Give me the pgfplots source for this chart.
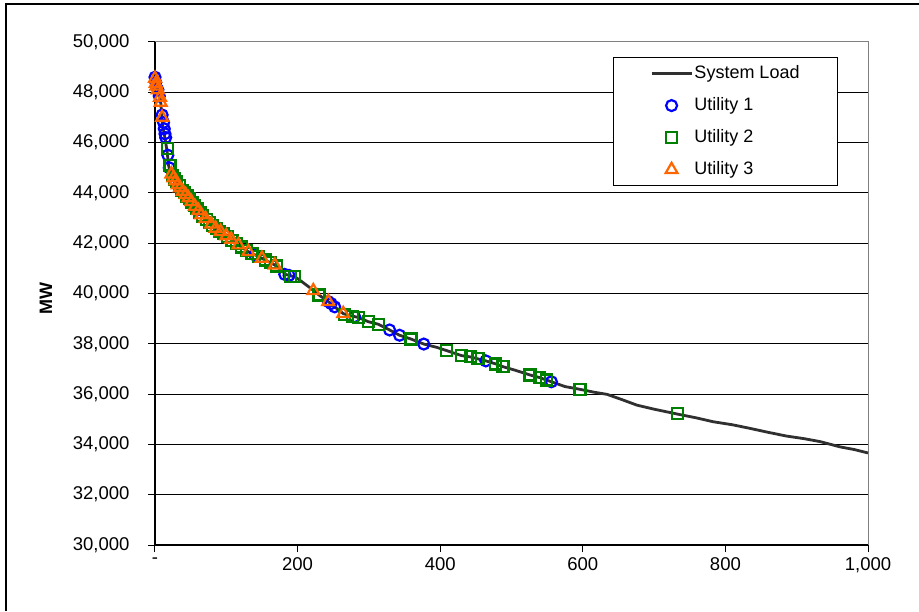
\documentclass[border=0pt]{standalone}
\usepackage{fontspec}
\setmainfont{Liberation Sans}
\usepackage{pgfplots}
\pgfplotsset{compat=1.18}

\definecolor{uone}{RGB}{0,0,255}
\definecolor{utwo}{RGB}{0,128,0}
\definecolor{uthree}{RGB}{255,102,0}
\definecolor{loadline}{RGB}{48,48,48}
\definecolor{frame}{RGB}{128,128,128}

\begin{document}
\begin{tikzpicture}[x=1pt,y=1pt]
\useasboundingbox (0,0) rectangle (919,611);
\draw[line width=1.2pt] (6,0) -- (6,607) -- (919,607);
\begin{axis}[
  at={(155pt,66pt)}, anchor=south west,
  width=713pt, height=503pt, scale only axis,
  xmin=0, xmax=1000, ymin=30000, ymax=50000,
  clip=false,
  scaled x ticks=false, scaled y ticks=false,
  axis line style={draw=none},
  xtick={0,200,400,600,800,1000},
  xticklabels={-,200,400,600,800,{1,000}},
  ytick={30000,32000,34000,36000,38000,40000,42000,44000,46000,48000,50000},
  yticklabels={{30,000},{32,000},{34,000},{36,000},{38,000},{40,000},{42,000},{44,000},{46,000},{48,000},{50,000}},
  xtick pos=left, ytick pos=left,
  tick align=outside,
  major tick length=7pt,
  tick style={black, line width=1pt},
  ymajorgrids,
  major grid style={black, line width=1pt},
  tick label style={font=\fontsize{18.5}{22}\selectfont},
  yticklabel style={xshift=-15pt},
  xticklabel style={yshift=-2pt},
  ylabel={MW},
  every axis y label/.style={at={(rel axis cs:0,0.49)}, xshift=-109pt, rotate=90,
    anchor=center, font=\bfseries\fontsize{18}{22}\selectfont},
  legend image code/.code={\draw[mark repeat=2,mark phase=2,#1] plot coordinates {(0pt,0pt) (20pt,0pt) (40pt,0pt)};},
  legend cell align=left,
  legend style={at={(0.958,0.970)}, anchor=north east, draw=black, line width=1pt,
    fill=white, font=\fontsize{18}{22}\selectfont, inner xsep=36.5pt, inner ysep=6pt,
    row sep=12pt, nodes={inner sep=1.5pt, text height=13pt, text depth=4pt}},
]
% plot area border and axis lines
\draw[frame, line width=1pt] (rel axis cs:0,1) -- (rel axis cs:1,1) -- (rel axis cs:1,0);
\draw[black, line width=1.2pt] (rel axis cs:0,1) -- (rel axis cs:0,0) -- (rel axis cs:1,0);

% system load duration curve
\addplot[color=loadline, line width=2.8pt, line join=round, mark=none] coordinates {
  (0,48650) (1,48450) (2,48300) (4,48150) (6,47950) (8,47650) (9,47200)
  (10,46900) (11,46600) (13,46350) (15,46000) (17,45650) (19,45100)
  (21,44850) (24,44700) (28,44500) (33,44270) (37,44120) (44,43900)
  (51,43650) (58,43400) (65,43130) (75,42860) (84,42600) (94,42420)
  (105,42190) (117,41930) (131,41660) (150,41400) (168,41130) (176,40950)
  (183,40760) (197,40650) (206,40470) (220,40170) (230,39940) (243,39680)
  (252,39470) (264,39200) (275,39110) (285,39050) (299,38880) (313,38780)
  (329,38550) (343,38340) (359,38190) (377,37990) (395,37860) (409,37730)
  (430,37530) (442,37480) (453,37400) (464,37320) (478,37200) (488,37090)
  (505,36950) (526,36760) (539,36660) (549,36560) (556,36490) (575,36300)
  (596,36190) (615,36080) (634,35990) (655,35780) (676,35560) (700,35400)
  (732,35210) (760,35050) (783,34900) (810,34780) (834,34640) (860,34480)
  (886,34330) (910,34230) (933,34110) (961,33900) (980,33800) (1000,33660)
};
\addlegendentry{System Load}

% Utility 1
\addplot[only marks, mark=o, mark size=5.5pt, color=uone, line width=2.2pt] coordinates {
  (0,48600) (1,48400) (4,48100) (6,47850) (10,47100) (12,46800) (13,46550)
  (14,46350) (15,46200) (18,45500) (20,45000) (37,44120) (44,43900)
  (60,43330) (90,42500) (140,41530) (182,40760) (188,40720) (243,39680)
  (247,39600) (252,39470) (280,39080) (329,38550) (343,38340) (377,37990)
  (464,37320) (556,36490)
};
\addlegendentry{Utility 1}

% Utility 2
\addplot[only marks, mark=square, mark size=5.5pt, color=utwo, line width=2.2pt] coordinates {
  (17,45750) (21,45100) (24,44700) (27,44550) (30,44450) (34,44280)
  (38,44100) (41,44000) (45,43880) (48,43780) (52,43620) (55,43500)
  (59,43380) (63,43220) (67,43080) (72,42950) (76,42830) (81,42700)
  (86,42570) (91,42480) (96,42380) (102,42260) (108,42120) (114,41990)
  (121,41850) (128,41720) (136,41580) (145,41460) (155,41330) (162,41240)
  (170,41090) (190,40690) (196,40660) (230,39940) (266,39180) (277,39100)
  (285,39050) (299,38880) (313,38780) (359,38190) (409,37730) (430,37530)
  (442,37480) (453,37400) (478,37200) (488,37090) (526,36760) (539,36660)
  (549,36560) (596,36190) (733,35220)
};
\addlegendentry{Utility 2}

% Utility 3
\addplot[only marks, mark=triangle, mark size=6.8pt, color=uthree, line width=2.2pt] coordinates {
  (0,48550) (1,48350) (2,48250) (4,48100) (7,47800) (8,47600) (10,47000)
  (23,44750) (26,44600) (29,44480) (32,44320) (35,44200) (39,44060)
  (43,43930) (47,43800) (51,43650) (56,43460) (61,43300) (65,43130)
  (71,42980) (79,42760) (85,42590) (92,42460) (100,42290) (107,42150)
  (117,41930) (131,41660) (150,41400) (168,41130) (222,40110) (243,39680)
  (264,39200)
};
\addlegendentry{Utility 3}
\end{axis}
\end{tikzpicture}
\end{document}
